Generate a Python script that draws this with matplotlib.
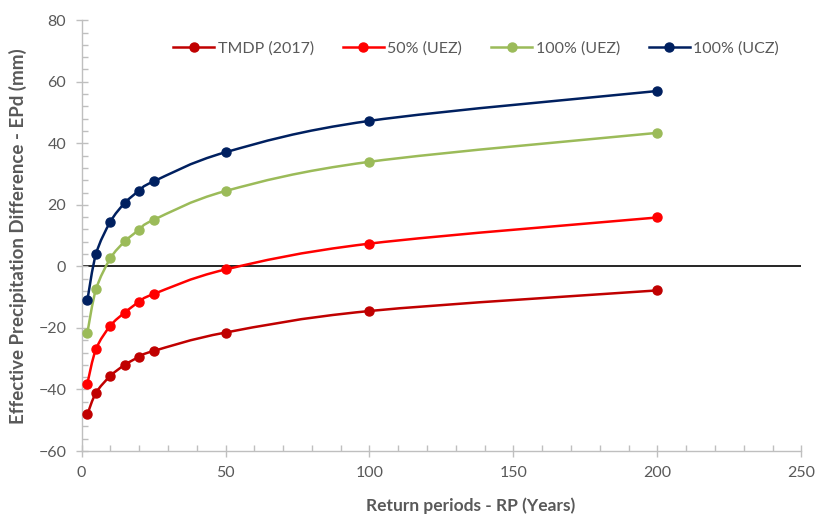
import numpy as np
import matplotlib.pyplot as plt
from matplotlib.path import Path
from matplotlib.patches import PathPatch

plt.rcParams['font.family'] = ['Lato', 'DejaVu Sans']

rp = [2, 5, 10, 15, 20, 25, 50, 100, 200]
tmdp_2017 = [-48.1, -41.1, -35.6, -32.0, -29.4, -27.5, -21.5, -14.5, -7.8]
uez_50 = [-38.1, -26.9, -19.3, -15.0, -11.5, -9.0, -1.0, 7.4, 15.9]
uez_100 = [-21.6, -7.5, 2.6, 8.1, 11.9, 15.1, 24.5, 34.0, 43.4]
ucz_100 = [-11.0, 4.0, 14.5, 20.6, 24.6, 27.6, 37.1, 47.3, 57.0]

series = [
    ("TMDP (2017)", tmdp_2017, "#C00000"),
    ("50% (UEZ)", uez_50, "#FF0000"),
    ("100% (UEZ)", uez_100, "#9BBB59"),
    ("100% (UCZ)", ucz_100, "#002060"),
]

grey = "#595959"
axis_grey = "#BFBFBF"


def smooth_path(x, y):
    # Catmull-Rom style cubic Bezier through every point (Excel "smoothed line")
    pts = np.column_stack([x, y]).astype(float)
    n = len(pts)
    verts = [pts[0]]
    codes = [Path.MOVETO]
    for i in range(n - 1):
        p0 = pts[i - 1] if i > 0 else pts[i]
        p1 = pts[i]
        p2 = pts[i + 1]
        p3 = pts[i + 2] if i + 2 < n else pts[i + 1]
        c1 = p1 + (p2 - p0) / 6.0
        c2 = p2 - (p3 - p1) / 6.0
        verts += [c1, c2, p2]
        codes += [Path.CURVE4] * 3
    return Path(verts, codes)


fig = plt.figure(figsize=(8.16, 5.19), dpi=100)
ax = fig.add_axes([0.100, 0.131, 0.882, 0.830])

ax.axhline(0, color="black", lw=1.2, zorder=1)

for label, vals, color in series:
    ax.add_patch(PathPatch(smooth_path(rp, vals), fill=False, edgecolor=color,
                           lw=1.8, zorder=2))
    ax.plot(rp, vals, ls="none", marker="o", ms=6.5, color=color, zorder=3)
    ax.plot([], [], color=color, lw=1.8, marker="o", ms=6.5, label=label)

ax.set_xlim(0, 250)
ax.set_ylim(-60, 80)
ax.set_xticks(np.arange(0, 251, 50))
ax.set_yticks(np.arange(-60, 81, 20))
ax.set_xticks(np.arange(0, 251, 10), minor=True)
ax.set_yticks(np.arange(-60, 81, 4), minor=True)

for s in ["top", "right"]:
    ax.spines[s].set_visible(False)
for s in ["left", "bottom"]:
    ax.spines[s].set_color(axis_grey)
    ax.spines[s].set_linewidth(1.0)

ax.tick_params(which="major", direction="inout", length=8, width=1,
               color=axis_grey, labelcolor=grey, labelsize=11.5, pad=7)
ax.tick_params(which="minor", direction="in", length=4, width=1,
               color=axis_grey)

ax.set_xlabel("Return periods - RP (Years)", fontsize=12.5, fontweight="bold",
              color=grey)
ax.xaxis.set_label_coords(0.54, -0.107)
ax.set_ylabel("Effective Precipitation Difference - EPd (mm)", fontsize=13.5,
              fontweight="bold", color=grey, labelpad=8)

ax.legend(loc="upper center", bbox_to_anchor=(0.548, 0.985), ncol=4,
          frameon=False, fontsize=11.5, labelcolor=grey, handlelength=2.6,
          columnspacing=1.8, handletextpad=0.2)

fig.savefig("out.png", dpi=100)
